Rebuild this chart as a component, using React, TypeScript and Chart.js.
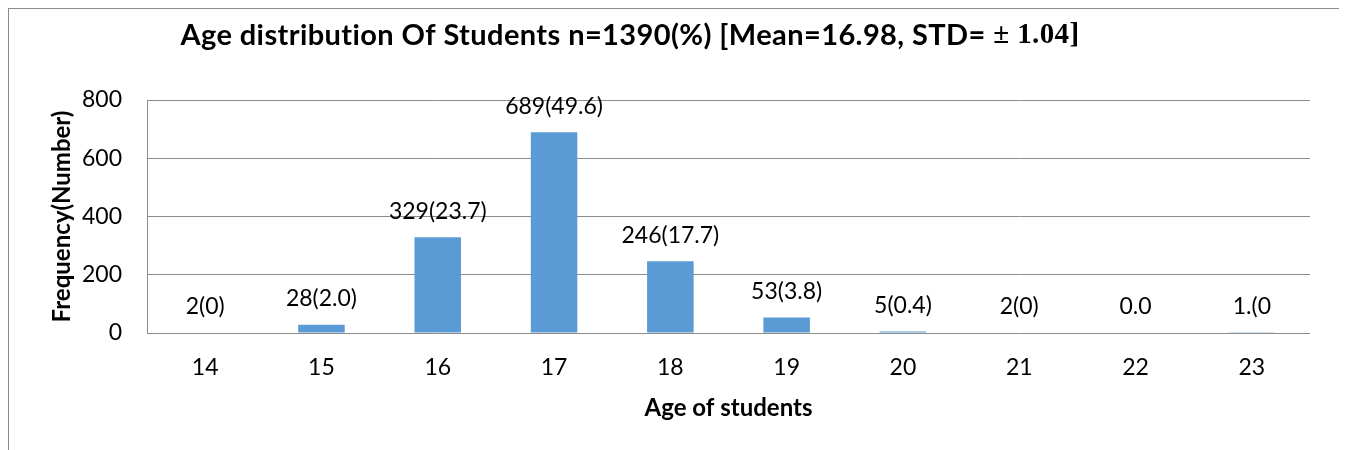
import React, { useEffect, useRef } from "react";
import { Chart, registerables } from "chart.js";

Chart.register(...registerables);

const ages = ["14", "15", "16", "17", "18", "19", "20", "21", "22", "23"];
const counts = [2, 28, 329, 689, 246, 53, 5, 2, 0, 1];
const valueLabels = ["2(0)", "28(2.0)", "329(23.7)", "689(49.6)", "246(17.7)", "53(3.8)", "5(0.4)", "2(0)", "0.0", "1.(0"];
const yMax = 800;
const yStep = 200;
const titleMain = "Age distribution Of Students n=1390(%) [Mean=16.98, STD= ";
const titleStd = "\u00B1 1.04]";
const yTitle = "Frequency(Number)";
const xTitle = "Age of students";

const FONT = "Lato, 'Open Sans', sans-serif";

const titlePlugin = {
  id: "mixedTitle",
  afterDraw(chart: any) {
    const ctx = chart.ctx;
    ctx.save();
    const f1 = `bold 29px ${FONT}`;
    const f2 = `bold 29px 'Liberation Serif', serif`;
    try {
      (ctx as any).letterSpacing = "0.4px";
    } catch (e) {}
    ctx.font = f1;
    const w1 = ctx.measureText(titleMain).width;
    ctx.font = f2;
    const w2 = ctx.measureText(titleStd).width;
    const cx = 621;
    const y = 27;
    let x = cx - (w1 + w2) / 2;
    ctx.textBaseline = "middle";
    ctx.textAlign = "left";
    ctx.fillStyle = "#000";
    ctx.font = f1;
    ctx.fillText(titleMain, x, y);
    ctx.font = f2;
    ctx.fillText(titleStd, x + w1, y);
    ctx.restore();
  },
};

const labelPlugin = {
  id: "valueLabels",
  afterDatasetsDraw(chart: any) {
    const ctx = chart.ctx;
    const meta = chart.getDatasetMeta(0);
    ctx.save();
    ctx.font = `23px ${FONT}`;
    ctx.fillStyle = "#000";
    ctx.textAlign = "center";
    ctx.textBaseline = "middle";
    meta.data.forEach((bar: any, i: number) => {
      ctx.fillText(valueLabels[i], bar.x, bar.y - 26);
    });
    ctx.restore();
  },
};

export default function App() {
  const ref = useRef<HTMLCanvasElement>(null);
  useEffect(() => {
    if (!ref.current) return;
    const chart = new Chart(ref.current, {
      type: "bar",
      data: {
        labels: ages,
        datasets: [
          {
            data: counts,
            backgroundColor: "#5B9BD5",
            borderWidth: 0,
            barPercentage: 0.4,
            categoryPercentage: 1,
          },
        ],
      },
      options: {
        responsive: false,
        animation: false,
        layout: { padding: { left: 0, top: 91, right: 30, bottom: 0 } },
        plugins: {
          legend: { display: false },
          title: { display: false },
          tooltip: { enabled: false },
        },
        scales: {
          x: {
            grid: { display: false },
            border: { display: false },
            ticks: { font: { family: FONT, size: 23 }, color: "#000", padding: 13, maxRotation: 0 },
            title: {
              display: true,
              text: xTitle,
              font: { family: FONT, size: 24, weight: "bold" },
              color: "#000",
              padding: { top: 0, bottom: 36 },
            },
            afterFit(scale: any) {
              scale.height = 126;
            },
          },
          y: {
            min: 0,
            max: yMax,
            ticks: { stepSize: yStep, font: { family: FONT, size: 23 }, color: "#000", padding: 25 },
            grid: { color: "#8c8c8c", lineWidth: 1, drawTicks: false },
            border: { display: true, color: "#8c8c8c", width: 1 },
            title: {
              display: true,
              text: yTitle,
              font: { family: FONT, size: 24, weight: "bold" },
              color: "#000",
              padding: { top: 39, bottom: 0 },
            },
            afterFit(scale: any) {
              scale.width = 138;
            },
          },
        },
      },
      plugins: [titlePlugin, labelPlugin],
    });
    return () => chart.destroy();
  }, []);
  return (
    <div style={{ width: 1331, height: 450, border: "1px solid #8c8c8c", position: "relative" }}>
      <canvas ref={ref} width={1331} height={450} />
    </div>
  );
}
